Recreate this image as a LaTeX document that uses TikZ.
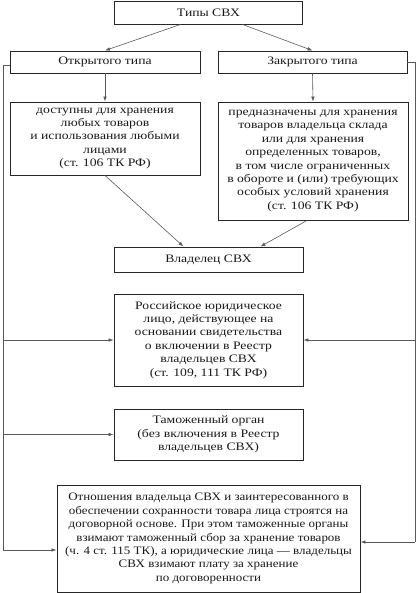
\documentclass[tikz,border=0pt]{standalone}
\usepackage{fontspec}
\setmainfont{Liberation Serif}[FakeStretch=1.2]
\newfontfamily\relfont{Liberation Serif}[FakeStretch=1.14]
\usetikzlibrary{arrows.meta}
\begin{document}
\begin{tikzpicture}[x=1pt,y=-1pt,
  box/.style={draw=black!85,line width=0.9pt,rectangle,align=center,inner sep=0pt,
    font=\fontsize{11.4}{13.4}\selectfont,text=black!90},
  conn/.style={draw=black!65,line width=0.6pt},
  arr/.style={conn,-{Latex[length=5pt,width=3.6pt]}}]
\useasboundingbox (0,0) rectangle (417,593);
\node[box,minimum width=188,minimum height=23] (top) at (208.5,12.5) {Типы СВХ};
\node[box,minimum width=190,minimum height=22] (open) at (105,62) {Открытого типа};
\node[box,minimum width=189,minimum height=22] (closed) at (312.5,62) {Закрытого типа};
\node[box,minimum width=190,minimum height=73] (opendesc) at (105,138.5) {доступны для хранения\\любых товаров\\и использования любыми\\лицами\\(ст. 106 ТК РФ)};
\node[box,minimum width=190,minimum height=118] (closeddesc) at (313,161) {предназначены для хранения\\товаров владельца склада\\или для хранения\\определенных товаров,\\в том числе ограниченных\\в обороте и (или) требующих\\особых условий хранения\\(ст. 106 ТК РФ)};
\node[box,minimum width=189,minimum height=25] (owner) at (208.5,259.5) {Владелец СВХ};
\node[box,minimum width=189,minimum height=92] (ros) at (208.5,340) {Российское юридическое\\лицо, действующее на\\основании свидетельства\\о включении в Реестр\\владельцев СВХ\\(ст. 109, 111 ТК РФ)};
\node[box,minimum width=189,minimum height=51] (tam) at (208.5,434.5) {Таможенный орган\\(без включения в Реестр\\владельцев СВХ)};
\node[box,minimum width=303,minimum height=107,font=\relfont\fontsize{11.4}{13.4}\selectfont] (rel) at (208.5,538.5) {Отношения владельца СВХ и заинтересованного в\\обеспечении сохранности товара лица строятся на\\договорной основе. При этом таможенные органы\\взимают таможенный сбор за хранение товаров\\(ч. 4 ст. 115 ТК), а юридические лица — владельцы\\СВХ взимают плату за хранение\\по договоренности};
\draw[arr] ([xshift=-28pt]top.south) -- (open.north);
\draw[arr] ([xshift=34pt]top.south) -- (closed.north);
\draw[arr] (open.south) -- (opendesc.north);
\draw[arr] (closed.south) -- (closeddesc.north);
\draw[arr] (opendesc.south) -- ([xshift=-25pt]owner.north);
\draw[arr] ([xshift=-6pt]closeddesc.south) -- ([xshift=52pt]owner.north);
\coordinate (lt) at (3,65);
\coordinate (lb) at (3,550);
\coordinate (rt) at (415,62);
\coordinate (rb) at (415,542);
\draw[conn] ([yshift=-3pt]open.west) -- (lt) -- (lb);
\draw[conn] (closed.east) -- (rt) -- (rb);
\draw[arr] (ros.west -| lt) -- (ros.west);
\draw[arr] (tam.west -| lt) -- (tam.west);
\draw[arr] (lb) -- (lb -| rel.west);
\draw[arr] (ros.east -| rt) -- (ros.east);
\draw[arr] (rb) -- (rb -| rel.east);
\end{tikzpicture}
\end{document}
